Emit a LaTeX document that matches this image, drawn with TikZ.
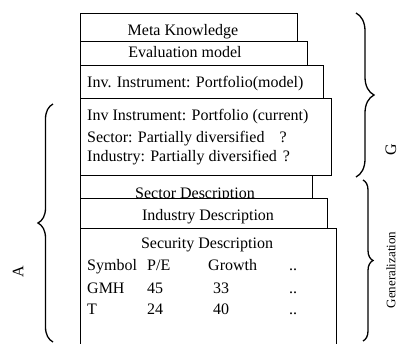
\documentclass[tikz,border=0pt]{standalone}
\usepackage{fontspec}
\setmainfont{Liberation Serif}
\usetikzlibrary{decorations.pathreplacing}

\begin{document}
\begin{tikzpicture}[x=1pt,y=-1pt,
    layer/.style={draw=black, line width=1.4pt, fill=white, anchor=north west, inner sep=0pt},
    txt/.style={font=\fontsize{16}{19}\selectfont, inner sep=0pt},
    bracket/.style={decorate, decoration={brace, amplitude=#1}, line width=1.3pt}]
    \useasboundingbox (0,0) rectangle (399,343);
    \clip (0,0) rectangle (399,343);

    % stacked layers, top to bottom
    \node[layer, minimum width=217pt, minimum height=28pt] (meta) at (80,13) {};
    \node[txt, anchor=base] (metatxt) at (183,35) {Meta Knowledge};
    \node[layer, minimum width=227pt, minimum height=24pt] (eval) at (80,41) {};
    \node[txt, anchor=base] (evaltxt) at (185,57) {Evaluation model};
    \node[layer, minimum width=243pt, minimum height=33pt] (model) at (80,65) {};
    \node[txt, anchor=base west] (modeltxt) at (87,87) {Inv. Instrument: Portfolio(model)};

    \node[layer, minimum width=251pt, minimum height=77pt] (current) at (80,98) {};
    \node[txt, anchor=base west] (curA) at (87,120) {Inv Instrument: Portfolio (current)};
    \node[txt, anchor=base west] (curB) at (87,142) {Sector: Partially diversified\hspace{15pt}?};
    \node[txt, anchor=base west] (curC) at (87,161) {Industry: Partially diversified\hspace{6pt}?};

    \node[layer, minimum width=232pt, minimum height=23pt] (sector) at (80,175) {};
    \node[txt, anchor=base] (sectortxt) at (195,198.5) {Sector Description};
    \node[layer, minimum width=247pt, minimum height=30pt] (industry) at (80,198) {};
    \node[txt, anchor=base] (industrytxt) at (208,220) {Industry Description};

    \node[layer, minimum width=256pt, minimum height=140pt] (security) at (80,228) {};
    \node[txt, anchor=base] (securitytxt) at (207,248) {Security Description};
    \node[txt, anchor=base west] (symbol) at (87,270) {Symbol};
    \node[txt, anchor=base west] (pe) at (147,270) {P/E};
    \node[txt, anchor=base west] (growth) at (208,270) {Growth};
    \node[txt, anchor=base west] (more) at (289,270) {..};
    \node[txt, anchor=base west] (gmh) at (87,293) {GMH};
    \node[txt, anchor=base west] (gmhpe) at (147,293) {45};
    \node[txt, anchor=base west] (gmhgr) at (213,293) {33};
    \node[txt, anchor=base west] (gmhmore) at (289,293) {..};
    \node[txt, anchor=base west] (t) at (87,314) {T};
    \node[txt, anchor=base west] (tpe) at (147,314) {24};
    \node[txt, anchor=base west] (tgr) at (213,314) {40};
    \node[txt, anchor=base west] (tmore) at (289,314) {..};

    % braces and their labels
    \coordinate (gtop) at (356,13);
    \coordinate (gbot) at (356,177);
    \draw[bracket=18] (gtop) -- (gbot);
    \node[txt, rotate=90] (glabel) at (391,150) {G};

    \coordinate (gentop) at (363,180);
    \coordinate (genbot) at (363,341);
    \draw[bracket=10] (gentop) -- (genbot);
    \node[txt, font=\fontsize{13}{15}\selectfont, rotate=90] (genlabel) at (391,270) {Generalization};

    \coordinate (abot) at (53,342);
    \coordinate (atop) at (53,104);
    \draw[bracket=15] (abot) -- (atop);
    \node[txt, rotate=90] (alabel) at (18,272) {A};
\end{tikzpicture}
\end{document}
